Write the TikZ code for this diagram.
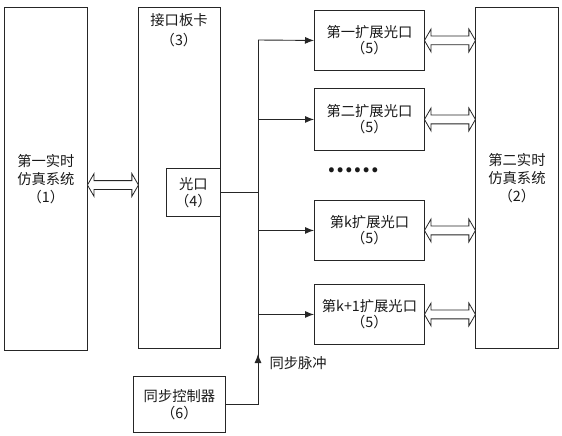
\documentclass[tikz,border=0pt]{standalone}
\usepackage{fontspec}
\setmainfont{Noto Sans CJK SC}
\usetikzlibrary{arrows.meta,shapes.arrows}
\begin{document}
\begin{tikzpicture}[x=1pt,y=-1pt,
  ln/.style={line width=0.9pt, draw=black!85},
  box/.style={ln, draw, inner sep=0pt, anchor=north west, align=center},
  txt/.style={font=\fontsize{14.3}{18}\selectfont, text=black!90},
  dar/.style={double arrow, draw, line width=0.8pt, draw=black!85, fill=white,
    inner xsep=0pt, inner ysep=4pt, minimum width=0pt,
    double arrow head extend=7pt, double arrow tip angle=120, minimum height=51pt},
  tip/.style={-{Latex[length=9pt,width=7pt]}}]
\useasboundingbox (0,0) rectangle (562,436);
% main boxes
\node[box, txt, minimum width=83pt, minimum height=343pt] (s1) at (4,7) {第一实时\\仿真系统\\（1）};
\node[box, minimum width=82pt, minimum height=341pt] (s3) at (138,7) {};
\node[txt, align=center, font=\fontsize{14.3}{20}\selectfont] (t3) at (179,30) {接口板卡\\（3）};
\node[box, txt, font=\fontsize{14.3}{17}\selectfont, minimum width=54pt, minimum height=48pt] (p4) at (166,168) {光口\\（4）};
\node[box, txt, minimum width=83pt, minimum height=341pt] (s2) at (475,7) {第二实时\\仿真系统\\（2）};
% extension ports
\tikzset{ebox/.style={box, txt, font=\fontsize{14.3}{16}\selectfont, minimum width=110pt}}
\node[ebox, minimum height=60pt] (e1) at (314,10) {第一扩展光口\\（5）};
\node[ebox, minimum height=62pt] (e2) at (314,88) {第二扩展光口\\（5）};
\node[txt, font=\fontsize{23}{23}\selectfont\bfseries] (dots) at (353,170) {……};
\node[ebox, minimum height=60pt] (ek) at (314,200) {第k扩展光口\\（5）};
\node[ebox, minimum height=60pt] (ek1) at (314,284) {第k+1扩展光口\\（5）};
% sync controller
\node[box, txt, font=\fontsize{14.3}{17}\selectfont, minimum width=92pt, minimum height=56pt] (s6) at (133,376) {同步控制器\\（6）};
% bus
\coordinate (bt) at (258,40);
\coordinate (ba) at (258,354);
\draw[ln] (s6.east) -| (bt);
\draw[ln] (p4.east) -- (p4.east -| bt);
\draw[ln, tip] (s6.east -| bt) -- (ba);
\draw[ln, tip] (bt) -- (e1.west);
\draw[ln, tip] (e2.west -| bt) -- (e2.west);
\draw[ln, tip] (ek.west -| bt) -- (ek.west);
\draw[ln, tip] (ek1.west -| bt) -- (ek1.west);
\node[txt, anchor=west] (lab) at (266,363) {同步脉冲};
% double arrows
\coordinate (y1) at (0,185);
\path (s1.east |- y1) -- node[dar] (d1) {} (s3.west |- y1);
\path (e1.east) -- node[dar] (d2) {} (e1.east -| s2.west);
\path (e2.east) -- node[dar] (d3) {} (e2.east -| s2.west);
\path (ek.east) -- node[dar] (d4) {} (ek.east -| s2.west);
\path (ek1.east) -- node[dar] (d5) {} (ek1.east -| s2.west);
\end{tikzpicture}
\end{document}
